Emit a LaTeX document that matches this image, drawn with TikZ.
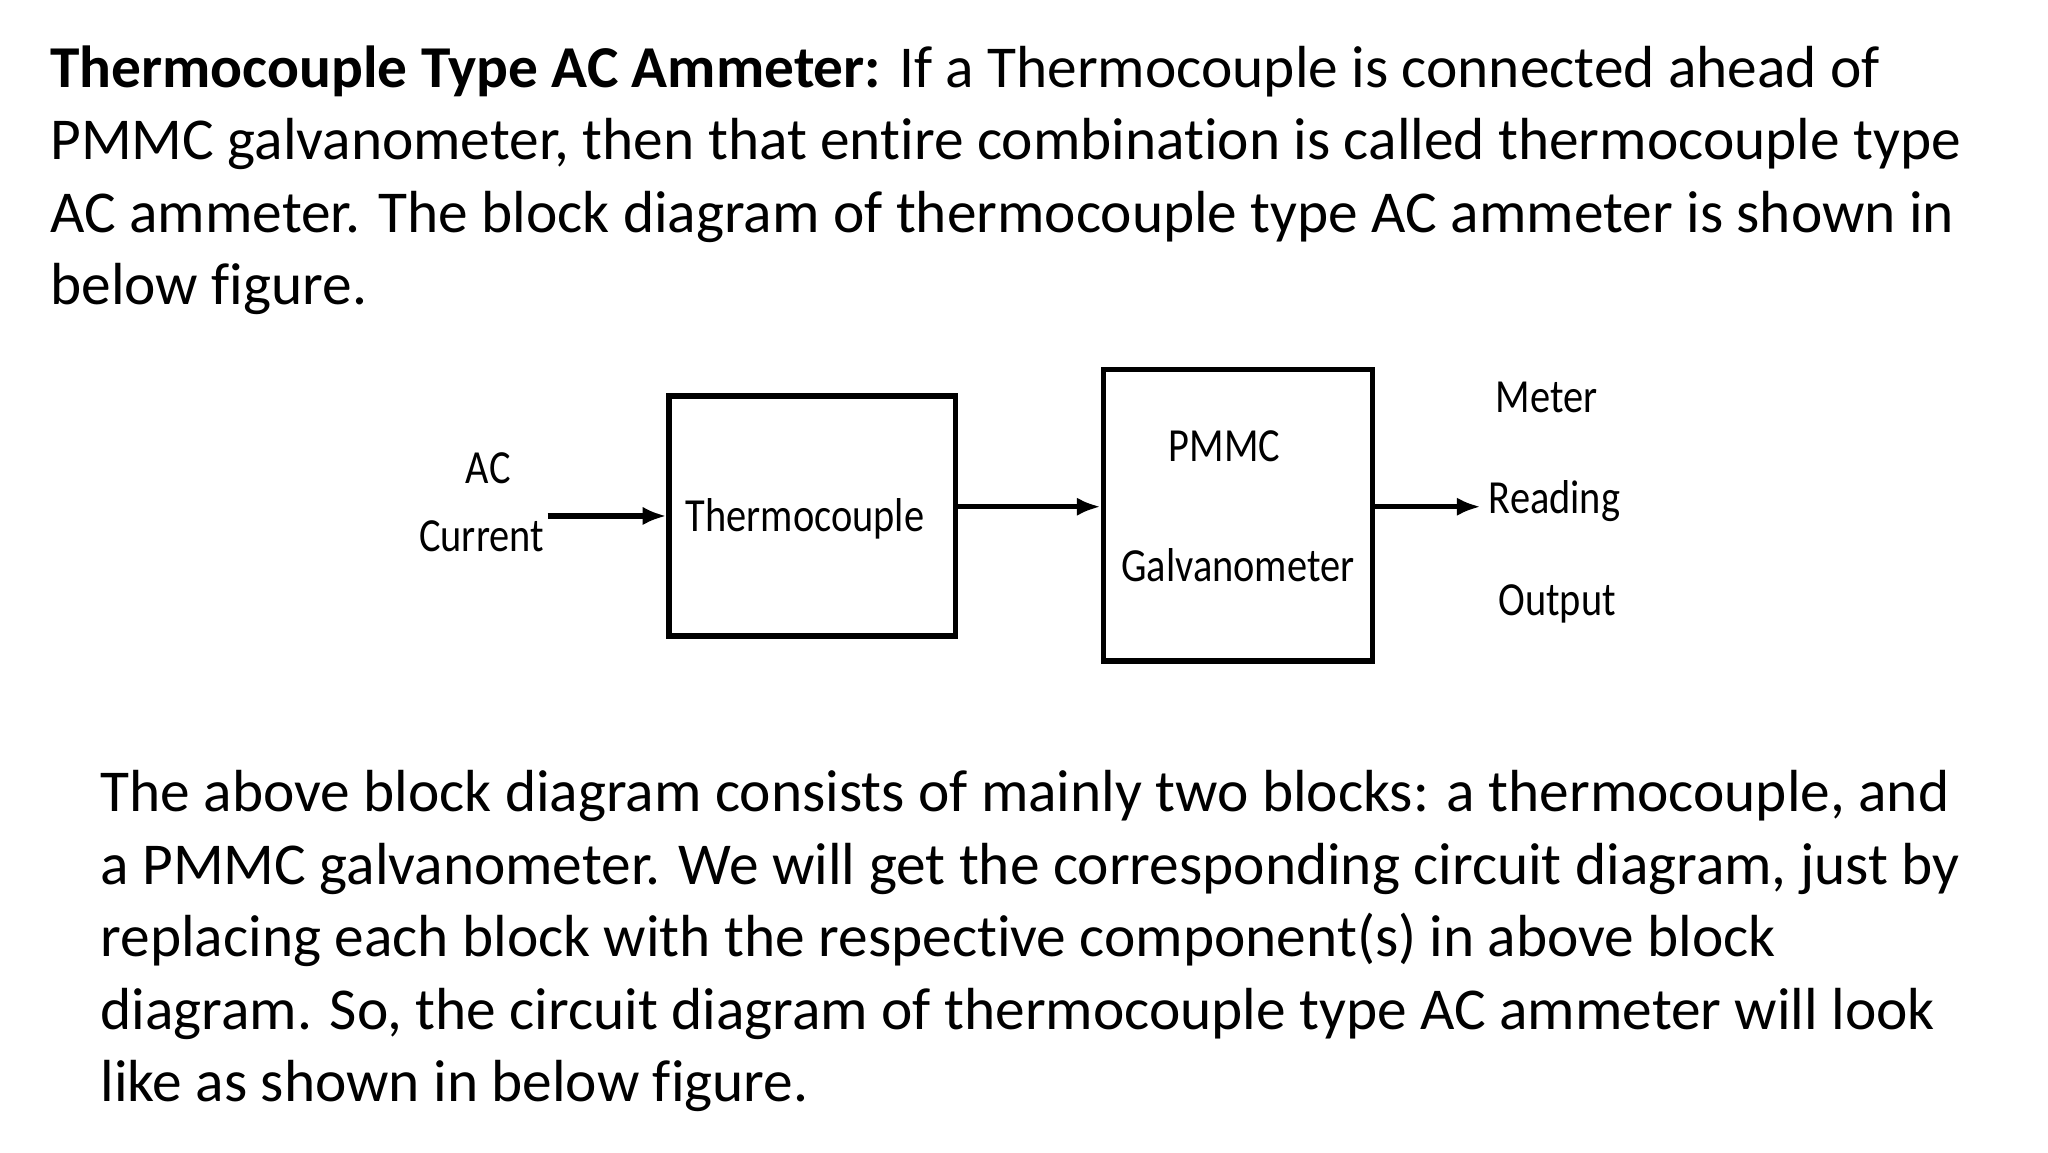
\documentclass[tikz,border=0pt]{standalone}
\usepackage{fontspec}
\usetikzlibrary{arrows.meta}
\setmainfont{Carlito}[Ligatures={NoCommon}]
\begin{document}
\begin{tikzpicture}[x=1pt,y=-1pt,
  para/.style={anchor=base west,inner sep=0pt,font=\fontsize{45}{54}\selectfont},
  lab/.style={inner sep=0pt,xscale=0.85,font=\fontsize{36}{40}\selectfont},
  blk/.style={draw,line width=4pt},
  arr/.style={-{Latex[length=18pt,width=14pt]},line width=4pt}]
\useasboundingbox (0,0) rectangle (1552,873);
\node[para] (t1) at (38,66) {\textbf{Thermocouple Type AC Ammeter:} If a Thermocouple is connected ahead of};
\node[para] (t2) at (38,121) {PMMC galvanometer, then that entire combination is called thermocouple type};
\node[para] (t3) at (38,176) {AC ammeter. The block diagram of thermocouple type AC ammeter is shown in};
\node[para] (t4) at (38,231) {below figure.};
\node[para] (b1) at (76,615) {The above block diagram consists of mainly two blocks: a thermocouple, and};
\node[para] (b2) at (76,670) {a PMMC galvanometer. We will get the corresponding circuit diagram, just by};
\node[para] (b3) at (76,725) {replacing each block with the respective component(s) in above block};
\node[para] (b4) at (76,780) {diagram. So, the circuit diagram of thermocouple type AC ammeter will look};
\node[para] (b5) at (76,835) {like as shown in below figure.};
\draw[blk] (507,300) rectangle (724,482);
\draw[blk] (836,280) rectangle (1040,501);
\coordinate (ina) at (415,391); \coordinate (inb) at (505,391);
\coordinate (ma) at (724,384); \coordinate (mb) at (834,384);
\coordinate (oa) at (1040,384); \coordinate (ob) at (1122,384);
\draw[arr] (ina) -- (inb);
\draw[arr] (ma) -- (mb);
\draw[arr] (oa) -- (ob);
\node[lab] (ac) at (370,355) {AC};
\node[lab] (cur) at (365,406) {Current};
\node[lab] (th) at (610,393) {Thermocouple};
\node[lab] (pm) at (928,338) {PMMC};
\node[lab] (ga) at (938,428) {Galvanometer};
\node[lab] (me) at (1172,301) {Meter};
\node[lab] (re) at (1178,380) {Reading};
\node[lab] (ou) at (1180,458) {Output};
\end{tikzpicture}
\end{document}
